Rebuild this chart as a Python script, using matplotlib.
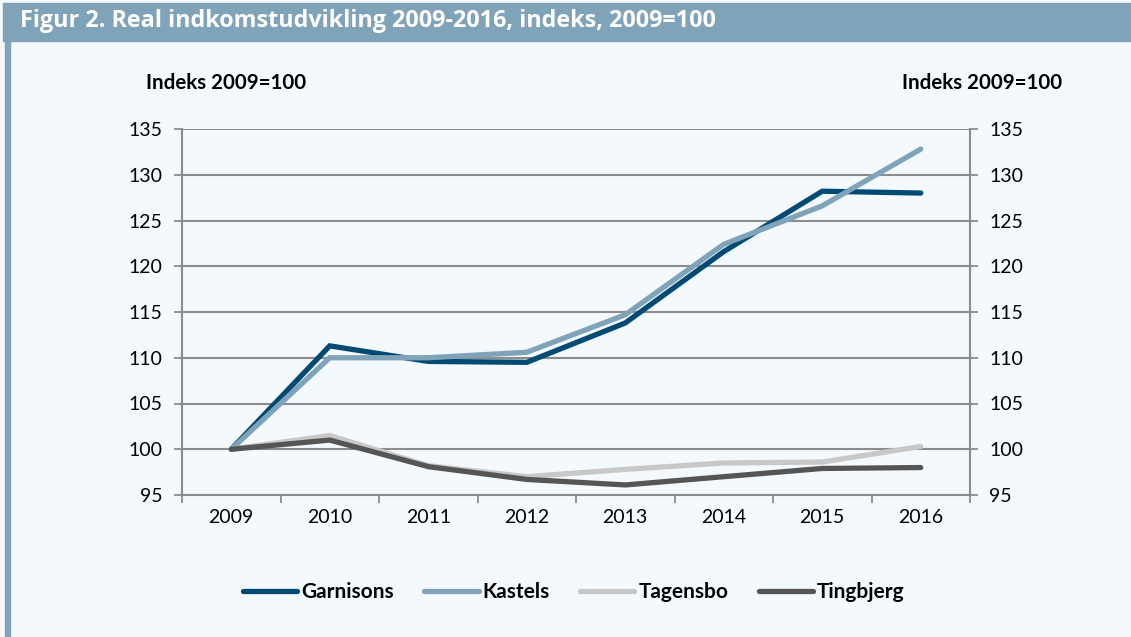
import matplotlib
matplotlib.use("Agg")
import matplotlib.pyplot as plt
from matplotlib.patches import Rectangle

plt.rcParams['font.family'] = ['Lato', 'DejaVu Sans']

# Data
aar = ["2009", "2010", "2011", "2012", "2013", "2014", "2015", "2016"]
garnisons = [100.0, 111.3, 109.6, 109.5, 113.8, 121.6, 128.2, 128.0]
kastels = [100.0, 110.0, 110.0, 110.6, 114.7, 122.4, 126.6, 132.8]
tagensbo = [100.0, 101.5, 98.2, 97.0, 97.8, 98.5, 98.6, 100.3]
tingbjerg = [100.0, 101.0, 98.1, 96.7, 96.1, 97.0, 97.9, 98.0]

serier = ["Garnisons", "Kastels", "Tagensbo", "Tingbjerg"]
farver = ["#004a73", "#7fa3b8", "#c8c8c8", "#555555"]

y_ticks = [95, 100, 105, 110, 115, 120, 125, 130, 135]

bg = "#f4f9fd"
grid_col = "#8c8c8c"

fig = plt.figure(figsize=(11.31, 6.37), dpi=100)
fig.patch.set_facecolor(bg)

# titelbjælke og venstre kant
fig.patches.append(Rectangle((0.003, 1 - 41 / 637), 0.997, 38 / 637,
                             transform=fig.transFigure, color="#7fa3b8", zorder=0))
fig.patches.append(Rectangle((0.0045, 0), 5 / 1131, 1 - 40 / 637,
                             transform=fig.transFigure, color="#7fa3b8", zorder=0))
fig.text(20 / 1131, 1 - 21 / 637, "Figur 2. Real indkomstudvikling 2009-2016, indeks, 2009=100",
         color="white", fontsize=16.8, fontweight="bold", va="center", ha="left",
         family=["Open Sans", "DejaVu Sans"])

ax = fig.add_axes([182 / 1131, 1 - 495 / 637, 788 / 1131, 366 / 637])
ax.set_facecolor(bg)

x = list(range(len(aar)))
for navn, vaerdier, farve in zip(serier, [garnisons, kastels, tagensbo, tingbjerg], farver):
    ax.plot(x, vaerdier, color=farve, lw=3.8, label=navn, solid_capstyle="round",
            solid_joinstyle="miter")

ax.set_xlim(-0.5, 7.5)
ax.set_ylim(95, 135)
ax.set_yticks(y_ticks)
ax.set_xticks(x)
ax.set_xticklabels(aar)
ax.set_xticks([i - 0.5 for i in range(len(aar) + 1)], minor=True)
ax.tick_params(axis="x", which="major", length=0, pad=10, labelsize=14)
ax.tick_params(axis="x", which="minor", length=6, width=1.3, color=grid_col, direction="out")
ax.tick_params(axis="y", length=6, width=1.3, color=grid_col, labelsize=14, pad=8,
               right=True, labelright=True)
ax.yaxis.grid(True, color=grid_col, lw=1.5)
ax.set_axisbelow(True)
ax.spines["top"].set_visible(False)
for side in ["left", "right", "bottom"]:
    ax.spines[side].set_color(grid_col)
    ax.spines[side].set_linewidth(1.5)

fig.text(146 / 1131, 1 - 83 / 637, "Indeks 2009=100", fontsize=14.8, fontweight="bold",
         ha="left", va="center")
fig.text(1062 / 1131, 1 - 83 / 637, "Indeks 2009=100", fontsize=14.8, fontweight="bold",
         ha="right", va="center")

leg = fig.legend(loc="center", bbox_to_anchor=(574 / 1131, 1 - 592 / 637), ncol=4,
                 frameon=False, handlelength=2.6, handletextpad=0.2, columnspacing=1.45,
                 prop={"weight": "bold", "size": 15})

fig.savefig("out.png", dpi=100, facecolor=bg)
